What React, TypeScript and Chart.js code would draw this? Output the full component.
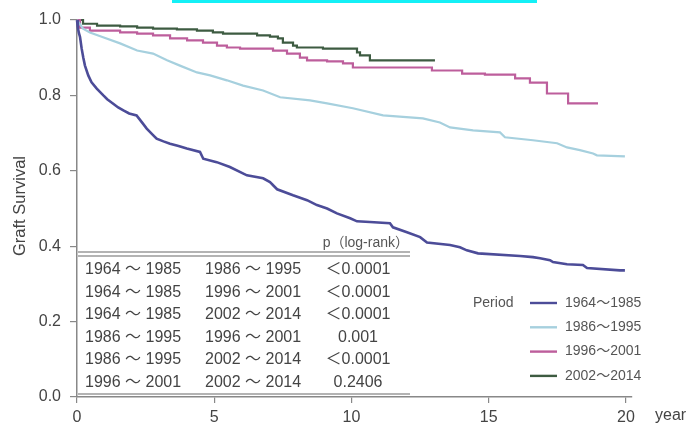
import React, { useEffect, useRef } from 'react';
import { Chart, registerables } from 'chart.js';

Chart.register(...registerables);

// ---- data ----
const periods = ['1964～1985', '1986～1995', '1996～2001', '2002～2014'];

const years1964 = [0, 0.03, 0.07, 0.11, 0.17, 0.23, 0.29, 0.41, 0.53, 0.72, 0.96, 1.1, 1.32, 1.5, 1.69, 1.9, 2.17, 2.36, 2.54, 2.78, 2.9, 3.15, 3.39, 3.7, 4.0, 4.48, 4.6, 5.09, 5.57, 6.19, 6.78, 7.03, 7.29, 7.87, 8.38, 8.74, 9.11, 9.47, 9.95, 10.2, 10.67, 11.4, 11.51, 12.02, 12.5, 12.75, 13.59, 13.95, 14.2, 14.61, 16.14, 16.61, 16.87, 17.23, 17.34, 17.85, 18.43, 18.58, 19.78, 19.96];
const surv1964 = [1.0, 0.98, 0.965, 0.955, 0.924, 0.9, 0.879, 0.853, 0.835, 0.818, 0.8, 0.79, 0.778, 0.768, 0.76, 0.752, 0.747, 0.729, 0.712, 0.694, 0.685, 0.678, 0.672, 0.666, 0.659, 0.65, 0.632, 0.623, 0.61, 0.588, 0.58, 0.57, 0.551, 0.535, 0.522, 0.509, 0.5, 0.487, 0.474, 0.466, 0.464, 0.461, 0.45, 0.437, 0.424, 0.41, 0.403, 0.397, 0.389, 0.381, 0.374, 0.371, 0.368, 0.363, 0.358, 0.352, 0.35, 0.342, 0.336, 0.336];

const years1986 = [0, 0.22, 0.47, 0.95, 1.57, 2.19, 2.77, 3.28, 3.75, 4.37, 4.85, 5.46, 6.05, 6.78, 7.4, 8.49, 9.11, 10.05, 11.15, 12.6, 13.22, 13.59, 14.43, 15.41, 15.59, 16.61, 17.49, 17.85, 18.32, 18.8, 18.94, 19.96];
const surv1986 = [1.0, 0.977, 0.967, 0.954, 0.938, 0.919, 0.911, 0.893, 0.879, 0.861, 0.853, 0.84, 0.826, 0.813, 0.795, 0.787, 0.779, 0.766, 0.747, 0.739, 0.728, 0.715, 0.707, 0.702, 0.689, 0.681, 0.673, 0.662, 0.655, 0.646, 0.641, 0.638];

const years1996 = [0, 0.11, 0.47, 1.57, 2.19, 2.77, 3.39, 4.01, 4.59, 5.1, 5.46, 5.94, 7.14, 7.65, 8.12, 8.38, 9.11, 9.69, 10.05, 12.93, 14.03, 14.86, 15.96, 16.5, 17.12, 17.89, 18.98];
const surv1996 = [1.0, 0.98, 0.972, 0.967, 0.964, 0.959, 0.951, 0.946, 0.94, 0.932, 0.927, 0.924, 0.919, 0.911, 0.9, 0.893, 0.89, 0.885, 0.874, 0.866, 0.858, 0.855, 0.845, 0.834, 0.805, 0.779, 0.779];

const years2002 = [0, 0.22, 0.73, 1.57, 2.19, 2.77, 3.64, 4.37, 4.95, 5.32, 6.56, 7.03, 7.32, 7.5, 7.87, 8.01, 8.96, 10.2, 10.31, 10.67, 13.04];
const surv2002 = [1.0, 0.99, 0.985, 0.983, 0.98, 0.977, 0.975, 0.972, 0.967, 0.964, 0.959, 0.956, 0.951, 0.94, 0.932, 0.927, 0.924, 0.914, 0.906, 0.893, 0.893];

const groupA = ['1964 ～ 1985', '1964 ～ 1985', '1964 ～ 1985', '1986 ～ 1995', '1986 ～ 1995', '1996 ～ 2001'];
const groupB = ['1986 ～ 1995', '1996 ～ 2001', '2002 ～ 2014', '1996 ～ 2001', '2002 ～ 2014', '2002 ～ 2014'];
const pValues = ['＜0.0001', '＜0.0001', '＜0.0001', '0.001', '＜0.0001', '0.2406'];

const xTickValues = [0, 5, 10, 15, 20];

// ---- styles ----
const lineColors = ['#4c4c98', '#a6d0de', '#bd5e9c', '#3d5b41'];
const lineWidths = [2.6, 2.2, 2.2, 2.2];
const steppedModes: any[] = [false, false, 'before', 'before'];
const FONT = '"Liberation Sans", "Noto Sans CJK JP", Arial, sans-serif';

const toPoints = (xs: number[], ys: number[]) => xs.map((x, i) => ({ x, y: ys[i] }));

const overlayPlugin = {
  id: 'overlay',
  afterDraw(chart: any) {
    const ctx = chart.ctx as CanvasRenderingContext2D;
    ctx.save();
    // cyan band at top
    ctx.fillStyle = '#14f0f6';
    ctx.fillRect(172, 0, 365, 3);

    // y axis title
    ctx.save();
    ctx.translate(20, 206);
    ctx.rotate(-Math.PI / 2);
    ctx.font = '16.5px ' + FONT;
    ctx.fillStyle = '#444';
    ctx.textAlign = 'center';
    ctx.textBaseline = 'middle';
    ctx.fillText('Graft Survival', 0, 0);
    ctx.restore();

    // x axis unit
    ctx.font = '16px ' + FONT;
    ctx.fillStyle = '#444';
    ctx.textAlign = 'left';
    ctx.textBaseline = 'middle';
    ctx.fillText('year', 655, 416);

    // table
    ctx.strokeStyle = '#9a9a9a';
    ctx.lineWidth = 1.5;
    [252, 256, 394].forEach((y) => {
      ctx.beginPath();
      ctx.moveTo(78, y);
      ctx.lineTo(410, y);
      ctx.stroke();
    });
    ctx.font = '14px ' + FONT;
    ctx.fillStyle = '#555';
    ctx.textAlign = 'right';
    ctx.fillText('p（log-rank）', 409, 243);

    ctx.font = '16px ' + FONT;
    ctx.fillStyle = '#444';
    for (let i = 0; i < groupA.length; i++) {
      const y = 270 + i * 22.5;
      ctx.textAlign = 'left';
      ctx.fillText(groupA[i], 85, y);
      ctx.fillText(groupB[i], 205, y);
      ctx.textAlign = 'center';
      ctx.fillText(pValues[i], 358, y);
    }

    // legend
    ctx.font = '14px ' + FONT;
    ctx.fillStyle = '#555';
    ctx.textAlign = 'left';
    ctx.fillText('Period', 473, 303);
    for (let i = 0; i < periods.length; i++) {
      const y = 303 + i * 24.3;
      ctx.strokeStyle = lineColors[i];
      ctx.lineWidth = 2.4;
      ctx.beginPath();
      ctx.moveTo(530, y);
      ctx.lineTo(557, y);
      ctx.stroke();
      ctx.fillStyle = '#555';
      ctx.fillText(periods[i], 565, y);
    }
    ctx.restore();
  },
};

export default function App() {
  const ref = useRef<HTMLCanvasElement | null>(null);

  useEffect(() => {
    document.body.style.margin = '0';
    const canvas = ref.current;
    if (!canvas) return;
    const series = [
      toPoints(years1964, surv1964),
      toPoints(years1986, surv1986),
      toPoints(years1996, surv1996),
      toPoints(years2002, surv2002),
    ];
    const chart = new Chart(canvas, {
      type: 'line',
      data: {
        datasets: series.map((d, i) => ({
          label: periods[i],
          data: d,
          borderColor: lineColors[i],
          borderWidth: lineWidths[i],
          pointRadius: 0,
          stepped: steppedModes[i],
          tension: 0,
          fill: false,
          clip: false as any,
        })),
      },
      options: {
        responsive: false,
        animation: false,
        events: [],
        layout: { padding: { top: 20, right: 60.5, left: 0, bottom: 0 } },
        plugins: { legend: { display: false }, tooltip: { enabled: false }, title: { display: false } },
        scales: {
          x: {
            type: 'linear',
            min: 0,
            max: 20.2,
            afterFit: (s: any) => { s.height = 35; },
            afterBuildTicks: (s: any) => { s.ticks = xTickValues.map((v) => ({ value: v })); },
            ticks: {
              includeBounds: false,
              stepSize: 5,
              padding: 5,
              color: '#444',
              font: { family: FONT, size: 16 },
              maxRotation: 0,
            },
            grid: { drawOnChartArea: false, drawTicks: true, tickLength: 6, color: '#888', lineWidth: 1.2 },
            border: { display: true, color: '#888', width: 1.5 },
          },
          y: {
            type: 'linear',
            min: 0,
            max: 1,
            afterFit: (s: any) => { s.width = 77; },
            ticks: {
              stepSize: 0.2,
              padding: 9,
              color: '#444',
              font: { family: FONT, size: 16 },
              callback: (v: any) => Number(v).toFixed(1),
            },
            grid: { drawOnChartArea: false, drawTicks: true, tickLength: 7, color: '#888', lineWidth: 1.2 },
            border: { display: true, color: '#888', width: 1.5 },
          },
        },
      },
      plugins: [overlayPlugin],
    });
    return () => chart.destroy();
  }, []);

  return (
    <canvas ref={ref} width={692} height={432} style={{ display: 'block', width: '692px', height: '432px' }} />
  );
}
